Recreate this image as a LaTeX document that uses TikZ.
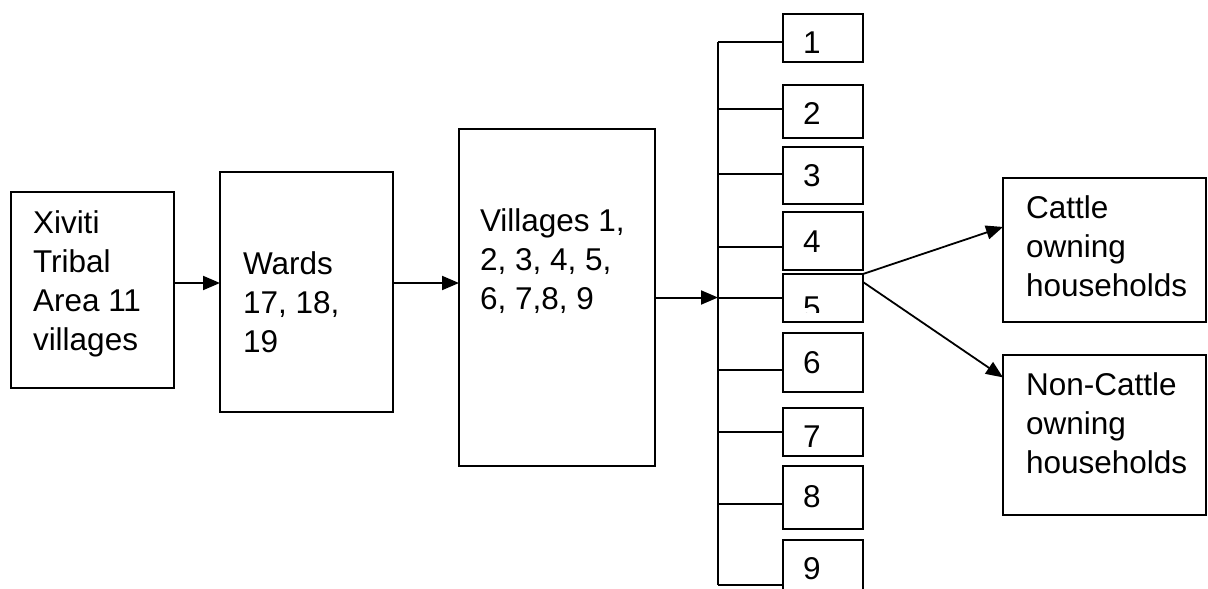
\documentclass[tikz,border=0pt]{standalone}
\usepackage{fontspec}
\setmainfont{Liberation Sans}
\usetikzlibrary{arrows.meta,calc}
% left-aligned stack of lines whose baseline is the first line's
\newcommand\stacklines[1]{\vtop{\halign{##\hfil\cr#1\crcr}}}
\begin{document}
\begin{tikzpicture}[x=1pt,y=-1pt,line width=2pt,
  box/.style={draw,rectangle,inner sep=0pt,outer sep=0pt},
  txt/.style={anchor=base west,inner sep=0pt,font=\fontsize{31.5}{39}\selectfont},
  flow/.style={-{Triangle[length=17pt,width=14pt]}},
  branch/.style={line width=1.9pt}]
\clip (0,0) rectangle (1208,589);
\fill[white] (0,0) rectangle (1208,589);

% main chain
\node[box,minimum width=163pt,minimum height=196pt] (area)  at (92.5,290) {};
\node[box,minimum width=173pt,minimum height=240pt] (wards) at (306.5,292) {};
\node[box,minimum width=196pt,minimum height=337pt] (vill)  at (557,297.5) {};

% village boxes
\foreach \i/\y/\h in {1/38/48,2/111.5/53,3/175.5/57,4/241/58,5/298/48,
                      6/362.5/59,7/432/48,8/497.5/63,9/580/80}
  \node[box,minimum width=80pt,minimum height=\h pt] (b\i) at (823,\y) {};

% household boxes
\node[box,minimum width=203pt,minimum height=144pt] (cattle)    at (1104.5,250) {};
\node[box,minimum width=203pt,minimum height=160pt] (noncattle) at (1104.5,435) {};

% texts
\node[txt] (areaT)  at (32,233)  {\stacklines{Xiviti\cr Tribal\cr Area 11\cr villages}};
\node[txt] (wardsT) at (242,274) {\stacklines{Wards\cr 17, 18,\cr 19}};
\node[txt] (villT)  at (479,231) {\stacklines{Villages 1,\cr 2, 3, 4, 5,\cr 6, 7,8, 9}};
\node[txt] (cattleT)    at (1025,218) {\stacklines{Cattle\cr owning\cr households}};
\node[txt] (noncattleT) at (1025,395) {\stacklines{Non-Cattle\cr owning\cr households}};
\foreach \i/\y in {1/53,2/124,3/186,4/252,6/373,7/447,8/507,9/579}
  \node[txt] (n\i) at (802,\y) {\i};
\begin{scope}
  \clip (783,274) rectangle (863,312);
  \node[txt] (n5) at (802,318) {5};
\end{scope}

% bus line with branches
\foreach \i/\y in {1/42,2/109,3/174,4/247,5/298,6/370,7/432,8/504,9/585}
  \coordinate (t\i) at (718,\y);
\draw[branch] (t1) -- (t9);
\foreach \i in {1,...,9}
  \draw[branch] (t\i) -- (t\i -| b\i.west);

% arrows
\draw[flow] ([yshift=7pt]area.east) -- ([yshift=7pt]area.east -| wards.west);
\draw[flow] ([yshift=9pt]wards.east) -- ([yshift=9pt]wards.east -| vill.west);
\draw[flow] (vill.east) -- (vill.east -| t1);
\draw[flow,line width=1.8pt] (b5.north east) -- ($(cattle.north west)!0.34!(cattle.south west)$);
\draw[flow,line width=1.8pt] ($(b5.north east)+(0,-8pt)$) -- ($(noncattle.north west)!0.14!(noncattle.south west)$);
\end{tikzpicture}
\end{document}
